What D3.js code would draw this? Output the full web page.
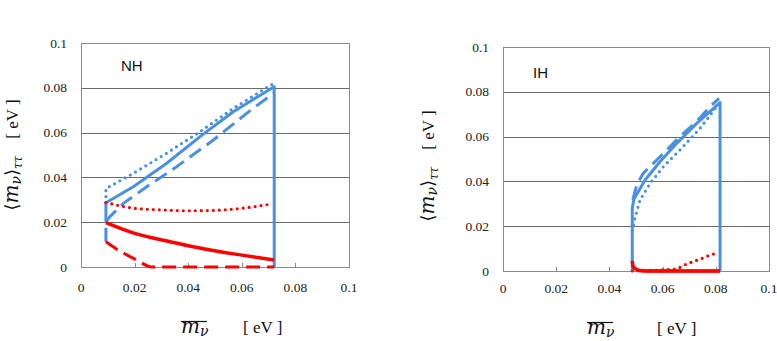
<!DOCTYPE html>
<html>
<head>
<meta charset="utf-8">
<script src="https://cdn.jsdelivr.net/npm/d3@7"></script>
<style>
body { margin: 0; background: #fff; }
</style>
</head>
<body>
<div id="chart"></div>
<script>
var tickValues = [0, 0.02, 0.04, 0.06, 0.08, 0.1];
var tickLabels = ["0", "0.02", "0.04", "0.06", "0.08", "0.1"];

// NH panel, [m_bar, <m>_tautau]
var nhBlueSolid = [[0.0093,0.0198],[0.0093,0.0287],[0.0195,0.0358],[0.032,0.0463],[0.0444,0.0582],[0.0568,0.0693],[0.0721,0.0805],[0.0721,0]];
var nhBlueDash  = [[0.0093,0.0113],[0.0093,0.0202],[0.0108,0.0225],[0.0158,0.0284],[0.0245,0.0358],[0.0357,0.0448],[0.0494,0.0567],[0.0618,0.0686],[0.072,0.0778]];
var nhBlueDot   = [[0.0093,0.0287],[0.0093,0.035],[0.0195,0.0418],[0.032,0.0508],[0.0444,0.0604],[0.0568,0.0708],[0.0715,0.0817]];
var nhRedSolid  = [[0.0093,0.0198],[0.02,0.015],[0.0332,0.0113],[0.04,0.0095],[0.0519,0.0068],[0.06,0.0053],[0.0721,0.0031]];
var nhRedDot    = [[0.0093,0.0288],[0.02,0.0262],[0.03,0.0255],[0.0394,0.0251],[0.05,0.0253],[0.06,0.0262],[0.0705,0.028]];
var nhRedDash   = [[0.0093,0.0113],[0.012,0.009],[0.0208,0.0031],[0.0264,0],[0.0721,0]];

// IH panel
var ihBlueSolid = [[0.0486,0],[0.0486,0.028],[0.0492,0.032],[0.0534,0.0406],[0.059,0.0488],[0.0653,0.057],[0.0728,0.0659],[0.0816,0.0752],[0.0816,0]];
var ihBlueDash  = [[0.0488,0.0317],[0.0503,0.0384],[0.0527,0.0436],[0.0597,0.0518],[0.0665,0.06],[0.0728,0.0667],[0.0778,0.0733],[0.0812,0.0771]];
var ihBlueDot   = [[0.0486,0.018],[0.0496,0.0235],[0.0515,0.0317],[0.0553,0.0391],[0.0603,0.0466],[0.0665,0.054],[0.0741,0.0637],[0.0803,0.0733]];
var ihRedSolid  = [[0.0486,0.0045],[0.0489,0.002],[0.051,0.0004],[0.055,0],[0.0816,0]];
var ihRedDash   = [[0.0486,0.003],[0.0495,0.001],[0.052,0],[0.0816,0]];
var ihRedDot    = [[0.0486,0],[0.0647,0.0009],[0.069,0.0031],[0.0734,0.005],[0.0778,0.007],[0.08,0.0079]];

var blue = "#4a90e2", red = "#ff0000";
var serif = "'Liberation Serif', 'Times New Roman', serif";
var mathSerif = "'DejaVu Serif', 'Liberation Serif', serif";
var styles = {
    solid: { dash: null, cap: "butt", w: 3 },
    dash:  { dash: "14,7", cap: "butt", w: 3 },
    dot:   { dash: "0,6", cap: "round", w: 3.2 }
};

var svg = d3.select("#chart").append("svg")
    .attr("width", 777).attr("height", 341);

var panels = [
    { left: 81, right: 349, top: 43, bottom: 267, label: "NH", labelX: 121, labelY: 71,
      tickY: 292, xTitleX: 181, xTitleY: 333, unitX: 243, yTitleX: 18, yTitleY: 155,
      series: [
        { data: nhBlueDot, color: blue, style: "dot" },
        { data: nhBlueDash, color: blue, style: "dash" },
        { data: nhBlueSolid, color: blue, style: "solid" },
        { data: nhRedDot, color: red, style: "dot", curve: d3.curveMonotoneX },
        { data: nhRedDash, color: red, style: "dash", curve: d3.curveMonotoneX },
        { data: nhRedSolid, color: red, style: "solid", curve: d3.curveMonotoneX, w: 3.5 }
      ] },
    { left: 503, right: 769, top: 47, bottom: 271, label: "IH", labelX: 533, labelY: 78,
      tickY: 293, xTitleX: 587, xTitleY: 334, unitX: 657, yTitleX: 434, yTitleY: 166,
      series: [
        { data: ihBlueDot, color: blue, style: "dot" },
        { data: ihBlueDash, color: blue, style: "dash" },
        { data: ihBlueSolid, color: blue, style: "solid" },
        { data: ihRedDot, color: red, style: "dot", curve: d3.curveMonotoneX },
        { data: ihRedDash, color: red, style: "solid", curve: d3.curveMonotoneX },
        { data: ihRedSolid, color: red, style: "solid", curve: d3.curveMonotoneX, w: 3.5 }
      ] }
];

panels.forEach(function(p) {
    var x = d3.scaleLinear().domain([0, 0.1]).range([p.left, p.right]);
    var y = d3.scaleLinear().domain([0, 0.1]).range([p.bottom, p.top]);
    var g = svg.append("g");

    // gridlines
    g.selectAll(".grid").data(tickValues.slice(1, 5)).enter().append("line")
        .attr("x1", p.left).attr("x2", p.right)
        .attr("y1", function(d) { return Math.round(y(d)) + 0.5; })
        .attr("y2", function(d) { return Math.round(y(d)) + 0.5; })
        .attr("stroke", "#6a6a6a").attr("stroke-width", 1);

    // frame
    g.append("rect")
        .attr("x", p.left + 0.5).attr("y", p.top + 0.5)
        .attr("width", p.right - p.left).attr("height", p.bottom - p.top)
        .attr("fill", "none").attr("stroke", "#8a8a8a").attr("stroke-width", 1);

    // small ticks on the bottom axis
    g.selectAll(".tick").data(tickValues.slice(1)).enter().append("line")
        .attr("x1", function(d) { return Math.round(x(d)) + 0.5; })
        .attr("x2", function(d) { return Math.round(x(d)) + 0.5; })
        .attr("y1", p.bottom).attr("y2", p.bottom - 4)
        .attr("stroke", "#8a8a8a");

    // tick labels
    g.selectAll(".ylab").data(tickValues).enter().append("text")
        .attr("x", p.left - 14).attr("y", function(d) { return y(d); })
        .attr("dy", "0.34em").attr("text-anchor", "end")
        .attr("font-family", serif).attr("font-size", "13.5px").attr("fill", "#222")
        .text(function(d, i) { return tickLabels[i]; });
    g.selectAll(".xlab").data(tickValues).enter().append("text")
        .attr("x", function(d) { return x(d); }).attr("y", p.tickY)
        .attr("text-anchor", "middle")
        .attr("font-family", serif).attr("font-size", "13.5px").attr("fill", "#222")
        .text(function(d, i) { return tickLabels[i]; });

    // curves
    p.series.forEach(function(s) {
        var st = styles[s.style];
        var line = d3.line()
            .x(function(d) { return x(d[0]); })
            .y(function(d) { return y(d[1]); })
            .curve(s.curve || d3.curveLinear);
        g.append("path")
            .attr("d", line(s.data))
            .attr("fill", "none")
            .attr("stroke", s.color)
            .attr("stroke-width", s.w || st.w)
            .attr("stroke-linecap", st.cap)
            .attr("stroke-linejoin", "round")
            .attr("stroke-dasharray", st.dash);
    });

    // panel label
    g.append("text")
        .attr("x", p.labelX).attr("y", p.labelY)
        .attr("font-family", "'Liberation Sans', Arial, sans-serif")
        .attr("font-size", "15px").attr("fill", "#111")
        .text(p.label);

    // x title: overlined m with subscript nu, then unit
    var xt = g.append("text").attr("x", p.xTitleX).attr("y", p.xTitleY)
        .attr("font-family", mathSerif).attr("fill", "#111");
    xt.append("tspan").attr("font-style", "italic").attr("font-size", "20px").text("m");
    xt.append("tspan").attr("font-style", "italic").attr("font-size", "14px").attr("dy", 3).text("ν");
    var bb = xt.node().getBBox();
    g.append("line")
        .attr("x1", p.xTitleX).attr("x2", bb.x + bb.width - 2)
        .attr("y1", p.xTitleY - 11.5).attr("y2", p.xTitleY - 11.5)
        .attr("stroke", "#111").attr("stroke-width", 1.2);
    g.append("text").attr("x", p.unitX).attr("y", p.xTitleY)
        .attr("font-family", serif)
        .attr("font-size", "17px").attr("fill", "#111")
        .text("[ eV ]");

    // y title, rotated
    var yt = g.append("text")
        .attr("transform", "translate(" + p.yTitleX + "," + p.yTitleY + ") rotate(-90)")
        .attr("font-family", mathSerif)
        .attr("text-anchor", "middle").attr("fill", "#111");
    yt.append("tspan").attr("font-size", "18px").attr("font-family", "'DejaVu Sans', sans-serif").text("⟨");
    yt.append("tspan").attr("font-style", "italic").attr("font-size", "20px").text("m");
    yt.append("tspan").attr("font-style", "italic").attr("font-size", "14px").attr("dy", 3).text("ν");
    yt.append("tspan").attr("font-size", "18px").attr("font-family", "'DejaVu Sans', sans-serif").attr("dy", -3).text("⟩");
    yt.append("tspan").attr("font-style", "italic").attr("font-size", "12px").attr("dy", 4).text("ττ");
    yt.append("tspan").attr("font-size", "17px").attr("font-family", serif).attr("dy", -4)
        .text("\u00a0\u00a0\u00a0\u00a0[ eV ]");
});
</script>
</body>
</html>
